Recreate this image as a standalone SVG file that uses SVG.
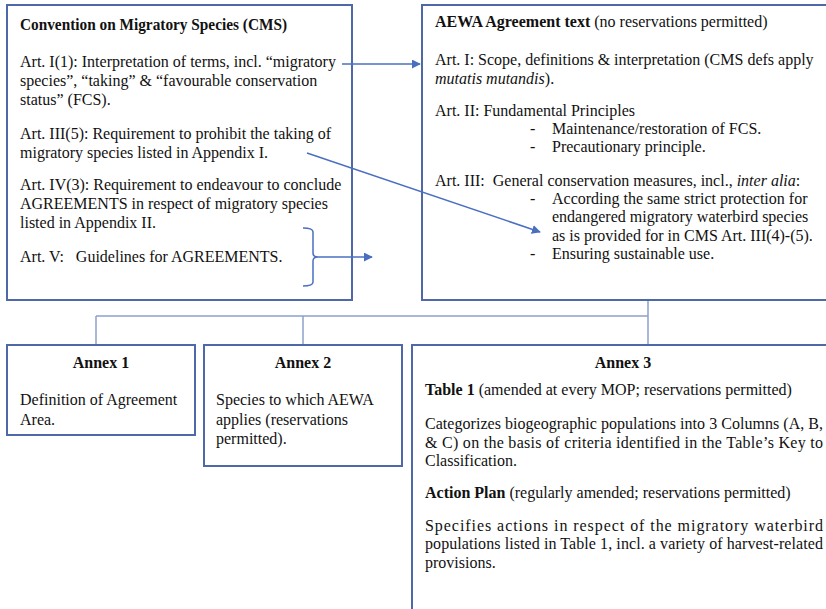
<svg xmlns="http://www.w3.org/2000/svg" width="826" height="609" viewBox="0 0 826 609">
<defs>
<style>
text{font-family:"Liberation Serif","Times New Roman",serif;font-size:16px;fill:#111}
.b{font-weight:bold}
.i{font-style:italic}
.box{fill:#fff;stroke:#4f69a8;stroke-width:2}
.arr{stroke:#4a6fc0;stroke-width:1.5;fill:none}
.tree{stroke:#8ea1cc;stroke-width:1.5;fill:none}
</style>
<marker id="ah" viewBox="0 0 10 10" refX="9" refY="5" markerWidth="9" markerHeight="9" markerUnits="userSpaceOnUse" orient="auto"><path d="M0,0 L10,5 L0,10 z" fill="#4a6fc0"/></marker>
</defs>
<rect width="826" height="609" fill="#fff"/>
<g id="cms">
<rect class="box" x="7" y="5" width="345" height="295"/>
<text x="20" y="30" class="b" textLength="267" lengthAdjust="spacingAndGlyphs">Convention on Migratory Species (CMS)</text>
<text x="20" y="67">Art. I(1): Interpretation of terms, incl. “migratory</text>
<text x="20" y="86">species”, “taking” &amp; “favourable conservation</text>
<text x="20" y="105">status” (FCS).</text>
<text x="20" y="139">Art. III(5): Requirement to prohibit the taking of</text>
<text x="20" y="158">migratory species listed in Appendix I.</text>
<text x="20" y="190">Art. IV(3): Requirement to endeavour to conclude</text>
<text x="20" y="209">AGREEMENTS in respect of migratory species</text>
<text x="20" y="228">listed in Appendix II.</text>
<text x="20" y="262" xml:space="preserve">Art. V:   Guidelines for AGREEMENTS.</text>
</g>
<g id="aewa">
<rect class="box" x="422" y="5" width="420" height="295"/>
<text x="435" y="27"><tspan class="b">AEWA Agreement text</tspan> (no reservations permitted)</text>
<text x="435" y="65">Art. I: Scope, definitions &amp; interpretation (CMS defs apply</text>
<text x="435" y="84"><tspan class="i">mutatis mutandis</tspan>).</text>
<text x="435" y="116">Art. II: Fundamental Principles</text>
<text x="530" y="134">-</text><text x="552" y="134">Maintenance/restoration of FCS.</text>
<text x="530" y="152">-</text><text x="552" y="152">Precautionary principle.</text>
<text x="435" y="186" xml:space="preserve">Art. III:  General conservation measures, incl., <tspan class="i">inter alia</tspan>:</text>
<text x="530" y="204">-</text><text x="552" y="204">According the same strict protection for</text>
<text x="552" y="222">endangered migratory waterbird species</text>
<text x="552" y="241">as is provided for in CMS Art. III(4)-(5).</text>
<text x="530" y="259">-</text><text x="552" y="259">Ensuring sustainable use.</text>
</g>
<g id="annex1">
<rect class="box" x="7" y="345" width="188" height="90"/>
<text x="101" y="368" class="b" text-anchor="middle">Annex 1</text>
<text x="20" y="405">Definition of Agreement</text>
<text x="20" y="425">Area.</text>
</g>
<g id="annex2">
<rect class="box" x="204" y="345" width="198" height="121"/>
<text x="303" y="368" class="b" text-anchor="middle">Annex 2</text>
<text x="216" y="405">Species to which AEWA</text>
<text x="216" y="425">applies (reservations</text>
<text x="216" y="444">permitted).</text>
</g>
<g id="annex3">
<rect class="box" x="412" y="345" width="430" height="280"/>
<text x="623" y="368" class="b" text-anchor="middle">Annex 3</text>
<text x="425" y="395"><tspan class="b">Table 1</tspan> (amended at every MOP; reservations permitted)</text>
<text x="425" y="429" textLength="398" lengthAdjust="spacing">Categorizes biogeographic populations into 3 Columns (A, B,</text>
<text x="425" y="448" textLength="398" lengthAdjust="spacing">&amp; C) on the basis of criteria identified in the Table’s Key to</text>
<text x="425" y="466">Classification.</text>
<text x="425" y="498"><tspan class="b">Action Plan</tspan> (regularly amended; reservations permitted)</text>
<text x="425" y="531" textLength="398" lengthAdjust="spacing">Specifies actions in respect of the migratory waterbird</text>
<text x="425" y="549" textLength="398" lengthAdjust="spacing">populations listed in Table 1, incl. a variety of harvest-related</text>
<text x="425" y="568">provisions.</text>
</g>
<g id="connectors">
<path class="tree" d="M648,301 V344 M96,316 H648 M96,316 V344 M303,316 V344"/>
<path class="arr" d="M342,64 H420" marker-end="url(#ah)"/>
<path class="arr" d="M307,153 L540,232" marker-end="url(#ah)"/>
<path class="arr" d="M303,228 Q313,228 313,232 V253 Q313,257 318,257 Q313,257 313,261 V282 Q313,286 303,286"/>
<path class="arr" d="M318,257 H372" marker-end="url(#ah)"/>
</g>
</svg>
